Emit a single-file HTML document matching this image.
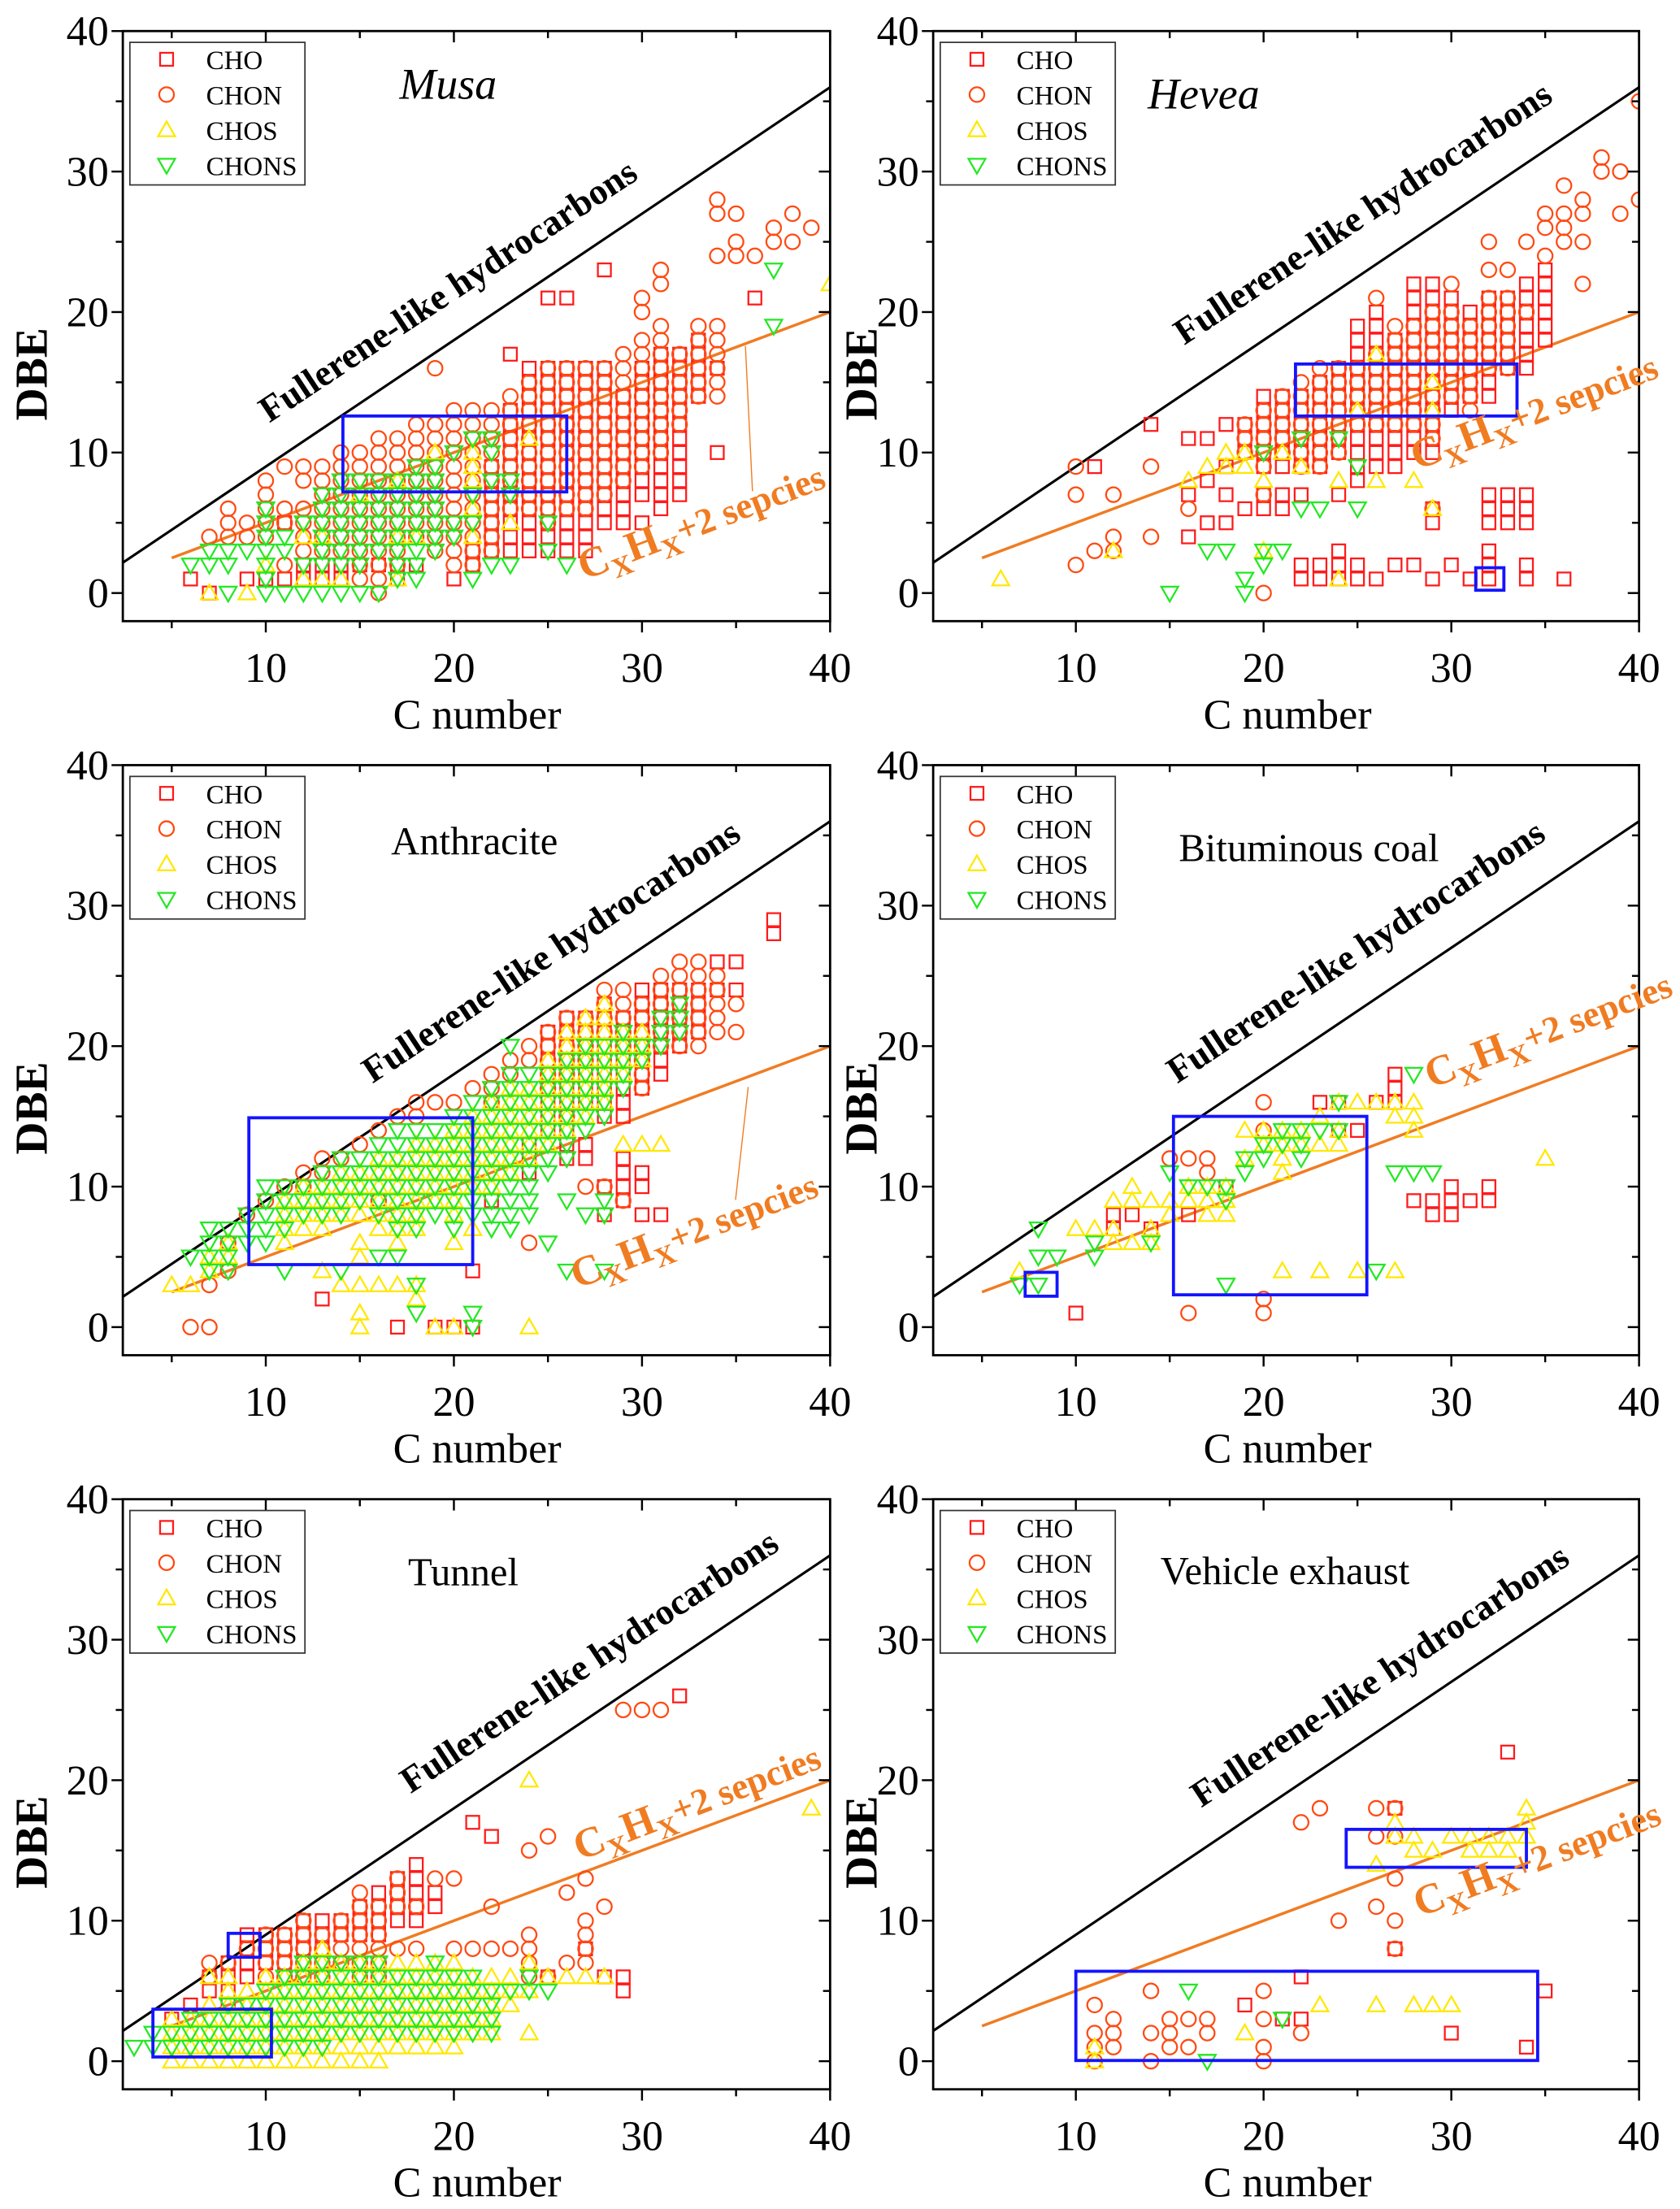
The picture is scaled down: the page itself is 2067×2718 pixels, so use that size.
<!DOCTYPE html>
<html><head><meta charset="utf-8"><style>
html,body{margin:0;padding:0;background:#fff;}
svg{display:block;font-family:"Liberation Serif",serif;}
svg text{font-family:"Liberation Serif",serif;}
</style></head><body>
<svg id="fig" xmlns="http://www.w3.org/2000/svg" width="2067" height="2718" viewBox="0 0 1190 1564.8" preserveAspectRatio="none" font-family="Liberation Serif, serif"></svg>
<script>
const panelNames = ["Musa","Hevea","Anthracite","Bituminous coal","Tunnel","Vehicle exhaust"];
const seriesNames = ["CHO","CHON","CHOS","CHONS"];
const xTicks = [10,20,30,40];
const yTicks = [0,10,20,30,40];

const musaCHO = ["6:1","7:0","9:1","10:1","11:1,5","12:1-2","13:1-2","14:1-2","15:2","16:2","17:1-2","18:2","20:1","21:2-3","22:3-9","23:3-13,17","24:3-16","25:3-16,21","26:3-16,21","27:3-16","28:5-16,23","29:5-14","30:5,7-16","31:6-17","32:7-17","33:14-18","34:10,16","36:21"];
const musaCHON = ["7:4","8:4-6","9:4-5","10:4-8","11:2,5-6,9","12:3-6,8-9","13:3-9","14:3-10","15:1-10","16:0-11","17:2-11","18:4-12","19:3-12,16","20:2-13","21:2-13","22:3-13","23:6-14","24:6-15","25:5-16","26:6-16","27:6-16","28:7-16","29:8-17","30:9-18,20-21","31:10-19,22-23","32:12-17","33:14-19","34:14-19,24,27-28","35:24-25,27","36:24","37:25-26","38:25,27","39:26"];
const musaCHOS = ["7:0","9:0","10:2","12:1,4","13:1,4","14:1","15:7","17:1,4,8","18:4","19:10","21:4,6,8-10","23:5","24:11","40:22"];
const musaCHONS = ["6:2","7:2-3","8:0,2-3","9:3","10:0-6","11:0,3-4","12:0,2,5","13:0,2-7","14:0,2-8","15:0,2-8","16:0,3-8","17:1-8","18:1-9","19:3-9","20:4-5,10","21:1,5,7,11","22:2,8,10-11","23:2,7-8","25:3,5","26:2","37:19,23"];

const heveaCHO = ["11:9","14:12","16:4,7,11","17:5,8,11","18:5,7,9,12","19:6,10-12","20:6-7,9-14","21:6-7,9-14","22:1-2,7,9-14","23:1-2,9-15","24:1-3,7,10-16","25:1-2,8-19","26:1,9-20","27:2,9-18","28:2,10-22","29:1,5-6,10-22","30:2,13-21","31:1,14-20","32:1-3,5-7,14-21","33:5-7,16-21","34:1-2,5-7,16-22","35:18-23","36:1"];
const heveaCHON = ["10:2,7,9","11:3","12:3-4,7","14:4,9","16:6","19:10-12","20:0,7,9-13","21:10-14","22:9-15","23:9-16","24:10-16","25:12-16","26:12-17,21","27:12-19","28:12-19","29:6,11-20","30:14-20,22","31:13-19","32:16-21,23,25","33:16-21,23","34:20,25","35:24,26-27","36:25-27,29","37:22,25,27-28","38:30-31","39:27,30","40:28,35"];
const heveaCHOS = ["6:1","12:3","16:8","17:9","18:9-10","19:9-10","20:3,8","21:10","22:9","24:1,8","25:13","26:8,17","28:8","29:6,13,15"];
const heveaCHONS = ["15:0","17:3","18:3","19:0-1","20:2-3,10","21:3","22:6,11","23:6","24:11","25:6,9"];

const anthCHO = ["13:2","17:0","19:0","20:0","21:0,4","22:9","24:11-13","25:14-21","26:12-22","27:12-13,16-22","28:8,10,15-23","29:9-12,15-22","30:8,10-11,17-24","31:8,18-24","32:20-24","33:21-24","34:24,26","35:24,26","37:28-29"];
const anthCHON = ["6:0","7:0,3","8:4,6","9:8","10:9","11:10","12:10-11","13:11-12","14:12","15:13","16:9,14","17:15","18:15-16","19:16","20:16","21:17","22:16-18","23:18-19","24:6,19-20","25:17-21","26:15,18-22","27:10,19-22","28:10,21-24","29:9,20-24","30:17-23","31:20-25","32:20-26","33:20-26","34:21-25","35:21,23"];
const anthCHOS = ["5:3","6:3","7:4-5","8:5-6","11:6-9","12:7-10","13:4,7-10","14:3,8-11","15:0-1,3,5-6,8-11","16:3,7-12","17:3,6-12","18:2-3,7-13","19:0,9-13","20:0,6,8-14","21:7,10-15","22:10-16","23:11-17","24:0,12-17","25:13-19","26:14-21","27:15-22","28:16-23","29:13,18-21","30:13,19-21","31:13"];
const anthCHONS = ["6:5","7:4-7","8:4-7","9:6-8","10:6-10","11:4,7-10","12:8-10","13:8-11","14:4,8-12","15:9-12","16:5,8-13","17:5,7-14","18:1,3,7-14","19:8-14","20:7-15","21:0-1,8-16","22:7-17","23:7-18,20","24:8-18","25:6,11-18","26:4,9,12-19","27:8,14-20","28:4,8-9,15-20","29:17-21","30:19-20","31:20-22","32:21-23"];

const bitCHO = ["10:1","12:7-8","13:8","14:7","16:8","18:10","23:16","24:14,16","25:14","26:16","27:16-18","28:9","29:8-9","30:8-10","31:9","32:9-10"];
const bitCHON = ["15:12","16:1,12","17:11-12","20:1-2,14,16"];
const bitCHOS = ["7:4","10:7","11:7","12:6-7,9","13:6,9-10","14:6-7,9","15:8-9","16:9-10","17:8-10","18:8-10","19:12,14","20:13-14","21:4,11-14","22:13-14","23:4,13,15","24:13-14,16","25:4,16","26:16","27:4,15-16","28:14-16","35:12"];
const bitCHONS = ["7:3","8:3,5,7","9:5","11:5-6","14:6","15:11","16:10","17:10","18:3,9-10","19:11-12","20:12-13","21:13-14","22:12-14","23:14","24:14,16","26:4","27:11","28:11,18","29:11"];

const tunCHO = ["5:3","6:4","7:5-6","8:4-7","9:6-9","10:7-9","11:7-9","12:8-10","13:8-10","14:9-10","15:9-11","16:9-12","17:10-13","18:10-14","19:11-12","21:17","22:16","25:6","27:8","28:6","29:5-6","32:26"];
const tunCHON = ["7:6-7","8:7","9:8","10:6-9","11:6-9","12:6-10","13:6-9","14:7-10","15:6-12","16:6-11","17:8,11-13","18:8,11","19:13","20:8,13","21:8","22:8,11","23:8","24:6-9,15","25:6,16","26:7,12","27:7-10,13","28:11","29:25","30:25","31:25"];
const tunCHOS = ["5:0-3","6:0-3","7:0-4,6","8:0-6","9:0-5","10:0-6","11:0-6","12:0-7","13:0-8","14:0-7","15:0-7","16:0-7","17:1-7","18:1-7","19:1-7","20:1-7","21:2-6","22:2-6","23:4-6","24:2,5,7,20","25:6","26:6","27:6","28:6","39:18"];
const tunCHONS = ["3:1","4:1-2","5:1-2","6:1-3","7:1-3","8:1-4","9:1-4","10:1-5","11:1-6","12:1-7","13:1-7","14:2-7","15:2-7","16:2-7","17:2-6","18:2-6","19:2-7","20:2-6","21:2-6","22:2-5","23:5","24:5-6","25:5"];

const vehCHO = ["19:4","21:3","22:3,6","27:8,18","30:2","33:22","34:1","35:5"];
const vehCHON = ["11:0-2,4","12:1-3","14:0,2,5","15:1-3","16:1,3","17:2-3","20:0-1,3,5","22:2,17","23:18","24:10","26:11,16,18","27:8,10,13,16,18"];
const vehCHOS = ["11:0-1","19:2","23:4","26:4,14","27:16-17","28:4,15-16","29:4,15","30:4,16","31:15-16","32:15-16","33:15-16","34:16-18"];
const vehCHONS = ["16:5","17:0","21:3"];

const musaBoxes = [[14.1,26.0,7.2,12.6]];
const heveaBoxes = [[21.7,33.5,12.6,16.3],[31.3,32.8,0.2,1.8]];
const anthBoxes = [[9.1,21.0,4.45,14.9]];
const bitBoxes = [[7.3,9.0,2.2,3.9],[15.2,25.5,2.3,15.0]];
const tunBoxes = [[4.0,10.3,0.3,3.7],[8.0,9.7,7.4,9.1]];
const vehBoxes = [[10.0,34.6,0.05,6.4],[24.4,34.0,13.8,16.5]];

const panelSeries = [
  [musaCHO,musaCHON,musaCHOS,musaCHONS],
  [heveaCHO,heveaCHON,heveaCHOS,heveaCHONS],
  [anthCHO,anthCHON,anthCHOS,anthCHONS],
  [bitCHO,bitCHON,bitCHOS,bitCHONS],
  [tunCHO,tunCHON,tunCHOS,tunCHONS],
  [vehCHO,vehCHON,vehCHOS,vehCHONS]
];
const panelBoxes = [musaBoxes,heveaBoxes,anthBoxes,bitBoxes,tunBoxes,vehBoxes];

const NS = "http://www.w3.org/2000/svg";
const svg = document.getElementById('fig');
const FONT = '"Liberation Serif", serif';
const colors = ["#ff1a1a","#ff4a12","#ffe800","#22e822"];
const xDom = [2.4,40], yDom = [-2,40];
const layout = [
  {x0:87,x1:588,yTop:22},{x0:661,x1:1161,yTop:22},
  {x0:87,x1:588,yTop:542},{x0:661,x1:1161,yTop:542},
  {x0:87,x1:588,yTop:1062},{x0:661,x1:1161,yTop:1062}
];
const titleInfo = [
  {dx:283,dy:70,italic:true},{dx:813,dy:77,italic:true},
  {dx:277,dy:605,italic:false},{dx:835,dy:610,italic:false},
  {dx:289,dy:1123,italic:false},{dx:822,dy:1122,italic:false}
];
const fullLbl = [[322,213],[970,158],[395,681],[965,681],[422,1184],[982,1194]];
const cxLbl = [[500,378],[1090,300],[495,880],[1100,738],[497,1285],[1092,1325]];

function el(tag, attrs, parent){
  const e = document.createElementNS(NS, tag);
  for (const k in attrs) e.setAttribute(k, attrs[k]);
  if(tag==='text') e.setAttribute('font-family', FONT);
  (parent||svg).appendChild(e);
  return e;
}
function parse(list){
  const pts=[];
  list.forEach(s=>{
    const [c,v]=s.split(':');
    v.split(',').forEach(part=>{
      if(part.includes('-')){const [a,b]=part.split('-').map(Number);for(let d=a;d<=b;d++)pts.push([+c,d]);}
      else pts.push([+c,+part]);
    });
  });
  return pts;
}
function marker(g, type, x, y, color){
  let m;
  if(type===0) m=el('rect',{x:x-4.6,y:y-4.6,width:9.2,height:9.2,fill:'none',stroke:color,'stroke-width':1.3},g);
  else if(type===1) m=el('circle',{cx:x,cy:y,r:5.2,fill:'none',stroke:color,'stroke-width':1.3},g);
  else if(type===2) m=el('polygon',{points:`${x},${y-6} ${x-6},${y+4.5} ${x+6},${y+4.5}`,fill:'none',stroke:color,'stroke-width':1.3},g);
  else m=el('polygon',{points:`${x},${y+6} ${x-6},${y-4.5} ${x+6},${y-4.5}`,fill:'none',stroke:color,'stroke-width':1.3},g);
  return m;
}

layout.forEach((L,pi)=>{
  const yBot = L.yTop + 418;
  const sx = c => L.x0 + (c - xDom[0])/(xDom[1]-xDom[0])*(L.x1-L.x0);
  const sy = d => yBot - (d - yDom[0])/(yDom[1]-yDom[0])*(yBot-L.yTop);
  const g = el('g',{});
  
  
  const clipId='clip'+pi;
  const cp = el('clipPath',{id:clipId},g);
  el('rect',{x:L.x0,y:L.yTop,width:L.x1-L.x0,height:yBot-L.yTop},cp);

  const lines = el('g',{'clip-path':`url(#${clipId})`},g);
  const bl = el('line',{x1:sx(xDom[0]),y1:sy(0.9*xDom[0]),x2:sx(40),y2:sy(36),stroke:'#000','stroke-width':1.8},lines);
  
  
  const ol = el('line',{x1:sx(5),y1:sy(2.5),x2:sx(40),y2:sy(20),stroke:'#f07c22','stroke-width':2},lines);
  
  
  if(pi===0) el('line',{x1:528,y1:245,x2:533,y2:348,stroke:'#f07c22','stroke-width':0.8},g);
  if(pi===2) el('line',{x1:530,y1:770,x2:521,y2:850,stroke:'#f07c22','stroke-width':0.8},g);

  const pg = el('g',{'clip-path':`url(#${clipId})`},g);
  panelSeries[pi].forEach((ser,si)=>{
    const sg = el('g',{},pg);
    
    
    parse(ser).forEach(([c,d])=>{
      const m = marker(sg, si, sx(c), sy(d), colors[si]);
      
      
    });
  });

  panelBoxes[pi].forEach(b=>{
    const r = el('rect',{x:sx(b[0]),y:sy(b[3]),width:sx(b[1])-sx(b[0]),height:sy(b[2])-sy(b[3]),fill:'none',stroke:'#1414ff','stroke-width':2.2},g);
    
    
  });

  const fr = el('rect',{x:L.x0,y:L.yTop,width:L.x1-L.x0,height:yBot-L.yTop,fill:'none',stroke:'#000','stroke-width':1.6},g);
  
  

  for(let v=5; v<=40; v+=5){
    const x=sx(v), major = v%10===0, len = major?8:5;
    el('line',{x1:x,y1:yBot,x2:x,y2:yBot+len,stroke:'#000','stroke-width':1.4},g);
    el('line',{x1:x,y1:L.yTop,x2:x,y2:L.yTop+len,stroke:'#000','stroke-width':1.4},g);
  }
  for(let v=0; v<=40; v+=5){
    const y=sy(v), major = v%10===0, len = major?8:5;
    el('line',{x1:L.x0,y1:y,x2:L.x0-len,y2:y,stroke:'#000','stroke-width':1.4},g);
    el('line',{x1:L.x1,y1:y,x2:L.x1-len,y2:y,stroke:'#000','stroke-width':1.4},g);
  }
  xTicks.forEach(v=>{
    const t = el('text',{x:sx(v),y:yBot+43,'font-size':30,'text-anchor':'middle'},g);
    t.textContent=v;
    
    
  });
  yTicks.forEach(v=>{
    const t = el('text',{x:L.x0-10,y:sy(v)+10,'font-size':30,'text-anchor':'end'},g);
    t.textContent=v;
    
    
  });
  const xt = el('text',{x:(pi%2? 912:338),y:yBot+76,'font-size':30,'text-anchor':'middle'},g);
  xt.textContent='C number';
  
  
  const yx = (pi%2 ? L.x0-40 : L.x0-54), ymid = L.yTop+243;
  const yt = el('text',{x:yx,y:ymid,'font-size':32,'font-weight':'bold','text-anchor':'middle',transform:`rotate(-90 ${yx} ${ymid})`},g);
  yt.textContent='DBE';
  
  

  const ti = titleInfo[pi];
  const tt = el('text',{x:ti.dx,y:ti.dy,'font-size':ti.italic?31:28,'font-style':ti.italic?'italic':'normal'},g);
  tt.textContent = panelNames[pi];
  
  

  const [fx,fy]=fullLbl[pi];
  const ft = el('text',{x:fx,y:fy,'font-size':26,'font-weight':'bold','text-anchor':'middle',transform:`rotate(-33.5 ${fx} ${fy})`},g);
  ft.textContent='Fullerene-like hydrocarbons';
  
  
  const [cx,cy]=cxLbl[pi];
  const ct = el('text',{x:cx,y:cy,'font-size':26,'font-weight':'bold',fill:'#f07c22','text-anchor':'middle',transform:`rotate(-21 ${cx} ${cy})`},g);
  ct.innerHTML = '<tspan font-size="30">C</tspan><tspan font-size="20" dy="7">X</tspan><tspan font-size="30" dy="-7">H</tspan><tspan font-size="20" dy="7">X</tspan><tspan dy="-7">+2 sepcies</tspan>';
  
  

  const lx = L.x0+5, ly = L.yTop+8;
  const lg = el('g',{},g);
  
  
  el('rect',{x:lx,y:ly,width:124,height:101,fill:'#fff',stroke:'#333','stroke-width':1},lg);
  seriesNames.forEach((n,si)=>{
    const yy = ly+12+si*25;
    const ent = el('g',{},lg);
    
    
    marker(ent, si, lx+26, yy, colors[si]);
    const t = el('text',{x:lx+54,y:yy+7,'font-size':19},ent);
    t.textContent=n;
  });
});
</script>
</body></html>
